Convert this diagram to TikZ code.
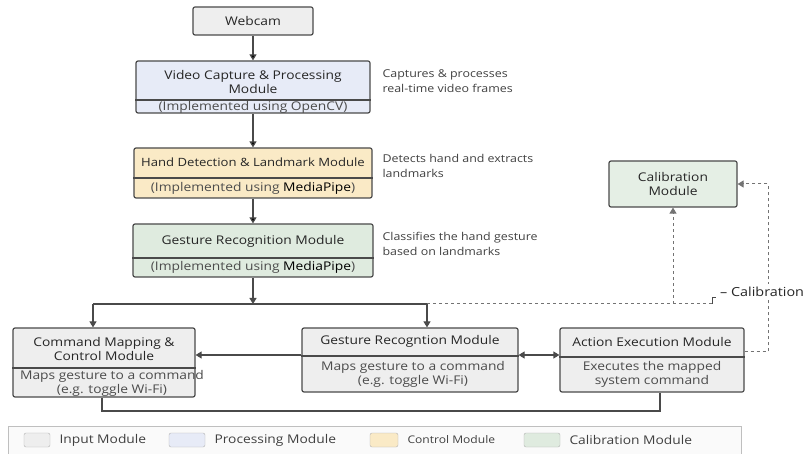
\documentclass[tikz,border=0pt]{standalone}
\usepackage{fontspec}
\setmainfont{Open Sans}[FakeStretch=1.15]
\usetikzlibrary{arrows.meta}
\definecolor{boxline}{HTML}{4A4A4A}
\definecolor{inputfill}{HTML}{EEEEEE}
\definecolor{procfill}{HTML}{E7EBF7}
\definecolor{ctrlfill}{HTML}{FAEAC6}
\definecolor{califill}{HTML}{DFEBDF}
\begin{document}
\begin{tikzpicture}[x=1pt,y=-1pt,>={Triangle[length=6pt,width=7pt]}]
        \tikzstyle{module}=[draw=boxline,line width=1.2pt,rounded corners=2pt,inner sep=0pt,font=\fontsize{12}{14}\selectfont,align=center,text=black!85]
        \tikzstyle{title}=[font=\fontsize{12}{14}\selectfont,align=center,text=black!85]
        \tikzstyle{sub}=[font=\fontsize{12}{13.5}\selectfont,align=center,text=black!70]
        \tikzstyle{note}=[font=\fontsize{10.8}{15.5}\selectfont,align=left,anchor=west,text=black!75]
        \tikzstyle{edge}=[draw=boxline,line width=1.2pt]
        \tikzstyle{calline}=[draw=black!55,line width=1pt,dashed]
        \tikzstyle{swatch}=[draw=black!30,rounded corners=2pt,minimum height=14pt,inner sep=0pt]
        \tikzstyle{key}=[font=\fontsize{12}{14}\selectfont,anchor=west,text=black!75]
        \useasboundingbox (0,0) rectangle (806,454);

        % pipeline
        \node [module,fill=inputfill,minimum width=120pt,minimum height=28pt] (cam) at (253,21) {Webcam};

        \node [module,fill=procfill,minimum width=234pt,minimum height=52pt] (vid) at (253,87) {};
        \node [title] (vidt) at (253,82) {Video Capture \& Processing\\Module};
        \node [sub] (vids) at (253,107) {(Implemented using OpenCV)};
        \draw [edge] (vid.west |- 0,100) -- (vid.east |- 0,100);
        \node [note] (vidn) at (379,81) {Captures \& processes\\real-time video frames};

        \node [module,fill=ctrlfill,minimum width=238pt,minimum height=50pt] (hand) at (253,173) {};
        \node [title,font=\fontsize{11.4}{14}\selectfont] (handt) at (253,162) {Hand Detection \& Landmark Module};
        \node [sub] (hands) at (253,188) {(Implemented using {\color{black}MediaPipe})};
        \draw [edge] (hand.west |- 0,178) -- (hand.east |- 0,178);
        \node [note] (handn) at (379,166) {Detects hand and extracts\\landmarks};

        \node [module,fill=califill,minimum width=240pt,minimum height=53pt] (gest) at (253,250.5) {};
        \node [title] (gestt) at (253,241) {Gesture Recognition Module};
        \node [sub] (gests) at (253,267) {(Implemented using {\color{black}MediaPipe})};
        \draw [edge] (gest.west |- 0,258) -- (gest.east |- 0,258);
        \node [note] (gestn) at (379,244) {Classifies the hand gesture\\based on landmarks};

        \path [edge,->] (cam) edge (vid)
                        (vid) edge (hand)
                        (hand) edge (gest);

        % lower row
        \node [module,fill=inputfill,minimum width=182pt,minimum height=69pt] (cmd) at (104,362.5) {};
        \node [title] (cmdt) at (104,349) {Command Mapping \&\\Control Module};
        \node [sub] (cmds) at (112,383.5) {Maps gesture to a command\\(e.g. toggle Wi-Fi)};
        \draw [edge] (cmd.west |- 0,368) -- (cmd.east |- 0,368);

        \node [module,fill=inputfill,minimum width=216pt,minimum height=64pt] (grec) at (410,360) {};
        \node [title] (grect) at (410,341) {Gesture Recogntion Module};
        \node [sub] (grecs) at (413,374.5) {Maps gesture to a command\\(e.g. toggle Wi-Fi)};
        \draw [edge] (grec.west |- 0,356) -- (grec.east |- 0,356);

        \node [module,fill=inputfill,minimum width=184pt,minimum height=64pt] (act) at (652,360) {};
        \node [title] (actt) at (652,342) {Action Execution Module};
        \node [sub] (acts) at (652,374.5) {Executes the mapped\\system command};
        \draw [edge] (act.west |- 0,357) -- (act.east |- 0,357);

        \node [module,fill=califill!80!white,minimum width=128pt,minimum height=46pt] (calib) at (673,184) {Calibration\\Module};

        % fork below gesture recognition
        \coordinate (fork) at (253,304);
        \coordinate (forkl) at (93,304);
        \coordinate (forkr) at (427,304);
        \coordinate (bend) at (712,304);
        \draw [edge,->] (gest) -- (fork);
        \draw [edge] (forkl) -- (forkr);
        \draw [edge,->] (forkl) -- (forkl |- cmd.north);
        \draw [edge,->] (forkr) -- (forkr |- grec.north);
        \draw [edge,->] ([yshift=5pt]grec.west) -- ([yshift=5pt]grec.west -| cmd.east);
        \draw [edge,<->] ([yshift=5pt]grec.east) -- ([yshift=5pt]grec.east -| act.west);

        % feedback loop
        \coordinate (loopl) at (102,411);
        \coordinate (loopr) at (660,411);
        \draw [edge] (loopl |- cmd.south) -- (loopl) -- (loopr) -- (loopr |- act.south);

        % calibration
        \coordinate (tap) at (768,352);
        \draw [calline] (forkr) -- (bend);
        \draw [edge,line width=0.8pt] (bend) -- (712,297) -- (716,297);
        \draw [calline,->] (calib.south |- bend) -- (calib.south);
        \draw [calline,->] ([yshift=8pt]act.east) -- (tap) -- (tap |- calib.east) -- (calib.east);
        \node [anchor=west,fill=white,inner sep=3pt,font=\fontsize{12.5}{14}\selectfont,text=black!85] (calt) at (717,292) {-- Calibration};

        % legend
        \draw [draw=black!25,fill=black!2] (8,426) rectangle (741,458);
        \node [swatch,fill=inputfill,minimum width=26pt] (k1) at (37,440) {};
        \node [key] (k1t) at (56,440) {Input Module};
        \node [swatch,fill=procfill,minimum width=36pt] (k2) at (187,440) {};
        \node [key] (k2t) at (211,440) {Processing Module};
        \node [swatch,fill=ctrlfill,minimum width=28pt] (k3) at (384,440) {};
        \node [key,font=\fontsize{10.5}{12}\selectfont] (k3t) at (404,440) {Control Module};
        \node [swatch,fill=califill,minimum width=36pt] (k4) at (542,440) {};
        \node [key] (k4t) at (566,440) {Calibration Module};
\end{tikzpicture}
\end{document}
